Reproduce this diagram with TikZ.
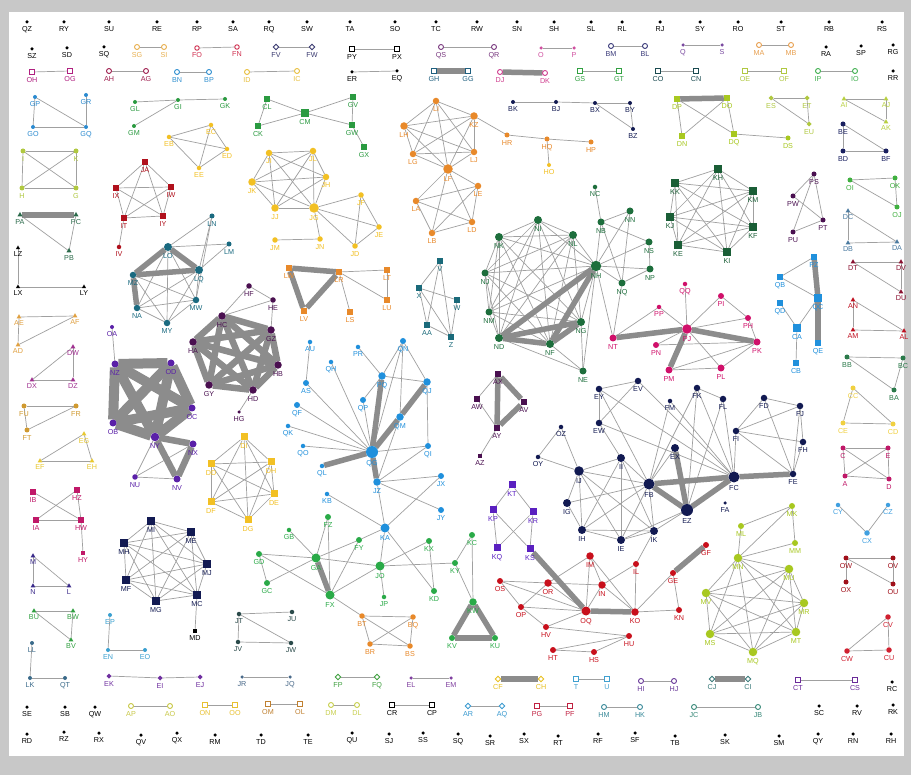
\documentclass[tikz,border=0pt]{standalone}
\usepackage{fontspec}
\setmainfont{Liberation Sans}
\usetikzlibrary{shapes.geometric}
\pgfdeclarelayer{bg}
\pgfsetlayers{bg,main}
\definecolor{cOut}{HTML}{C8C8C8}
\definecolor{cEdge}{HTML}{A0A0A0}
\definecolor{cThick}{HTML}{8C8C8C}
\definecolor{cNavy}{HTML}{121A52}
\definecolor{cDGreen}{HTML}{1D6E3C}
\definecolor{cKH}{HTML}{1A5E36}
\definecolor{cGreen}{HTML}{2AAA48}
\definecolor{cCM}{HTML}{2A9A40}
\definecolor{cYellow}{HTML}{F2C024}
\definecolor{cOrange}{HTML}{E8892A}
\definecolor{cRed}{HTML}{C8101C}
\definecolor{cJA}{HTML}{B0101C}
\definecolor{cMag}{HTML}{D0106A}
\definecolor{cBlue}{HTML}{2090DC}
\definecolor{cTeal}{HTML}{1A6A80}
\definecolor{cVT}{HTML}{1A6A7A}
\definecolor{cPurD}{HTML}{4A1050}
\definecolor{cPur}{HTML}{5A20A8}
\definecolor{cViolet}{HTML}{5A20C0}
\definecolor{cLime}{HTML}{A8C820}
\definecolor{cGP}{HTML}{2A8AD0}
\definecolor{cIK}{HTML}{B0C840}
\definecolor{cPA}{HTML}{2A6A4A}
\definecolor{cAE}{HTML}{E0A040}
\definecolor{cDW}{HTML}{A03090}
\definecolor{cFU}{HTML}{D09A30}
\definecolor{cEG}{HTML}{E8C830}
\definecolor{cIB}{HTML}{C01868}
\definecolor{cMNL}{HTML}{3A2A8A}
\definecolor{cBU}{HTML}{30A040}
\definecolor{cLL}{HTML}{3A6A8A}
\definecolor{cEP}{HTML}{3AA0D0}
\definecolor{cEK}{HTML}{7030A0}
\definecolor{cAI}{HTML}{B8D040}
\definecolor{cBE}{HTML}{1A2060}
\definecolor{cOI}{HTML}{40B040}
\definecolor{cDC}{HTML}{4A7AA0}
\definecolor{cDT}{HTML}{8A1030}
\definecolor{cAN}{HTML}{C01020}
\definecolor{cBB}{HTML}{2A7A4A}
\definecolor{cCC}{HTML}{F0D040}
\definecolor{cCY}{HTML}{40A0E0}
\definecolor{cOW}{HTML}{A0101A}
\definecolor{cCV}{HTML}{D02030}
\definecolor{cJT}{HTML}{2A4A4A}
\definecolor{cSG}{HTML}{E8B050}
\definecolor{cFO}{HTML}{D03050}
\definecolor{cFV}{HTML}{3A3A70}
\definecolor{cQS}{HTML}{7A3A80}
\definecolor{cO}{HTML}{D050A0}
\definecolor{cBM}{HTML}{3A3A7A}
\definecolor{cQ}{HTML}{7A4AA0}
\definecolor{cMA}{HTML}{E8A050}
\definecolor{cOH}{HTML}{B02080}
\definecolor{cAH}{HTML}{A02050}
\definecolor{cBN}{HTML}{3090D0}
\definecolor{cID}{HTML}{E8C040}
\definecolor{cGH}{HTML}{206080}
\definecolor{cDJ}{HTML}{D04090}
\definecolor{cGS}{HTML}{30A040}
\definecolor{cCO}{HTML}{1A4A50}
\definecolor{cOE}{HTML}{B0C840}
\definecolor{cIP}{HTML}{40B050}
\definecolor{cAP}{HTML}{C8C848}
\definecolor{cON}{HTML}{E8C030}
\definecolor{cOM}{HTML}{C08030}
\definecolor{cDM}{HTML}{C8D050}
\definecolor{cAR}{HTML}{3A9AD0}
\definecolor{cPG}{HTML}{C02040}
\definecolor{cHM}{HTML}{3A8A9A}
\definecolor{cJC}{HTML}{3A8A7A}
\definecolor{cJR}{HTML}{4A6A8A}
\definecolor{cFP}{HTML}{40A040}
\definecolor{cEL}{HTML}{8040A0}
\definecolor{cCF}{HTML}{E8C020}
\definecolor{cT}{HTML}{40A0D0}
\definecolor{cHI}{HTML}{6A3A9A}
\definecolor{cCJ}{HTML}{3A7A7A}
\definecolor{cCT}{HTML}{6A2A9A}
\tikzset{
 base/.style={inner sep=0pt, outer sep=0pt},
 dotS/.style={base, circle, fill=#1, draw=none},
 sqS/.style={base, rectangle, fill=#1, draw=none},
 triS/.style={base, regular polygon, regular polygon sides=3, fill=#1, draw=none},
 diaS/.style={base, diamond, fill=#1, draw=none},
 ocS/.style={base, circle, draw=#1, fill=white, line width=0.9pt},
 osS/.style={base, rectangle, draw=#1, fill=white, line width=0.9pt},
 odS/.style={base, diamond, draw=#1, fill=white, line width=0.9pt},
 lb/.style={font=\fontsize{7.2}{7.2}\selectfont, text=#1, inner sep=0.4pt},
 ed/.style={draw=cEdge, line width=0.7pt},
 tk/.style={draw=cThick, line width=5.5pt},
 tkm/.style={draw=cThick, line width=6.5pt},
 tkk/.style={draw=cThick, line width=10pt},
}
\newcommand\G[4]{\foreach \n/\x/\y in {#4}{\node[#1=#2, minimum size=#3, label={[lb=#2, label distance=2pt]below:\n}] (\n) at (\x,\y) {};}}
\newcommand\E[2][ed]{\foreach \a/\b in {#2}{\draw[#1] (\a)--(\b);}}
\newcommand\K[2][ed]{\foreach \a [count=\i] in {#2}{\foreach \b [count=\j] in {#2}{\ifnum\j>\i\relax\draw[#1] (\a)--(\b);\fi}}}
\begin{document}
\begin{tikzpicture}[x=1pt,y=-1pt]
\useasboundingbox (0,0) rectangle (911,775);
% black dots
\G{dotS}{black}{3.5pt}{QZ/27/22, RY/64/22, SU/109/22, RE/157/22, RP/197/22, SA/233/22, RQ/269/22, SW/307/22, TA/350/22, SO/395/22, TC/436/22, RW/477/22, SN/517/22, SH/554/22, SL/591/22, RL/622/22, RJ/660/22, SY/700/22, RO/738/22, ST/781/22, RB/829/22, RS/882/22, SZ/32/49, SD/67/48, SQ/104/47, RA/826/47, SP/861/46, RG/893/45, RR/893/71, ER/352/72, EQ/397/71, SE/27/707, SB/65/707, QW/95/707, SC/819/706, RV/857/706, RK/893/705, RC/892/682, RD/27/734, RZ/64/732, RX/99/733, QV/141/735, QX/177/733, RM/215/735, TD/261/735, TE/308/735, QU/352/733, SJ/389/734, SS/423/733, SR/490/736, SX/524/734, RT/558/736, RF/598/734, SF/635/733, TB/675/736, SK/725/735, SM/779/736, QY/818/734, RN/853/734, RH/891/734}
\node[dotS=black, minimum size=3.5pt, label={[lb=black, label distance=2pt]below:SQ}] (SQb) at (458,734) {};
% pairs
\G{ocS}{cSG}{5pt}{SG/137/47, SI/164/47}
\G{ocS}{cFO}{4.5pt}{FO/197/48, FN/237/47}
\G{odS}{cFV}{5.5pt}{FV/276/47, FW/312/47}
\G{osS}{black}{5pt}{PY/352/49, PX/397/49}
\G{ocS}{cQS}{5pt}{QS/441/47, QR/494/47}
\G{dotS}{cO}{3.5pt}{O/541/48, P/574/48}
\G{ocS}{cBM}{5pt}{BM/611/46, BL/645/46}
\G{dotS}{cQ}{3.5pt}{Q/683/45, S/722/45}
\G{ocS}{cMA}{5pt}{MA/759/45, MB/791/45}
\G{osS}{cOH}{5pt}{OH/32/72, OG/70/71}
\G{ocS}{cAH}{5pt}{AH/109/71, AG/146/71}
\G{ocS}{cBN}{5pt}{BN/177/72, BP/209/72}
\G{ocS}{cID}{5pt}{ID/247/72, IC/297/71}
\G{osS}{cGH}{5pt}{GH/434/71, GG/468/71}
\G{ocS}{cDJ}{5pt}{DJ/500/72, DK/545/73}
\G{osS}{cGS}{5pt}{GS/580/71, GT/619/71}
\G{osS}{cCO}{5pt}{CO/658/71, CN/696/71}
\G{osS}{cOE}{5pt}{OE/745/71, OF/784/71}
\G{ocS}{cIP}{5pt}{IP/818/71, IO/855/71}
\G{ocS}{cAP}{5pt}{AP/131/706, AO/170/706}
\G{osS}{cON}{5pt}{ON/205/705, OO/235/705}
\G{osS}{cOM}{5pt}{OM/268/704, OL/300/704}
\G{ocS}{cDM}{5pt}{DM/331/705, DL/357/705}
\G{osS}{black}{5pt}{CR/392/705, CP/432/705}
\G{odS}{cAR}{5.5pt}{AR/468/706, AQ/502/706}
\G{osS}{cPG}{5pt}{PG/537/706, PF/570/706}
\G{ocS}{cHM}{5pt}{HM/604/707, HK/640/707}
\G{ocS}{cJC}{5pt}{JC/694/707, JB/758/707}
\G{dotS}{cJR}{3.5pt}{JR/242/677, JQ/290/677}
\G{odS}{cFP}{5.5pt}{FP/338/677, FQ/377/677}
\G{dotS}{cEL}{3.5pt}{EL/411/678, EM/451/678}
\G{odS}{cCF}{5.5pt}{CF/498/679, CH/541/679}
\G{osS}{cT}{5pt}{T/576/679, U/607/679}
\G{ocS}{cHI}{5pt}{HI/641/681, HJ/674/681}
\G{odS}{cCJ}{5.5pt}{CJ/712/679, CI/748/679}
\G{osS}{cCT}{5pt}{CT/798/680, CS/855/680}
% small groups left
\G{dotS}{cGP}{4pt}{GP/35/97, GR/86/95, GO/33/127, GQ/86/127}
\G{dotS}{cCM}{4pt}{GL/135/102, GI/178/100, GK/225/99, GM/134/126}
\G{sqS}{cCM}{5.5pt}{CL/267/99, CK/258/126, GV/353/97, GW/352/125, GX/364/147}
\G{sqS}{cCM}{7.5pt}{CM/305/113}
\G{dotS}{cYellow}{4.5pt}{EB/169/137, EC/211/125, ED/227/149, EE/199/168}
\G{dotS}{cIK}{5pt}{I/23/151, K/76/151, H/22/188, G/76/188}
\G{sqS}{cJA}{6.5pt}{JA/145/162, IX/116/188, IW/171/187, IT/124/218, IY/163/216}
\G{dotS}{cJA}{4.5pt}{IV/119/247}
\G{triS}{cPA}{6pt}{PA/20/215, PC/76/215, PB/69/251}
\G{triS}{black}{5pt}{LZ/18/248, LX/18/287, LY/84/287}
\G{dotS}{cTeal}{5pt}{LN/212/216, LM/229/244}
\G{dotS}{cTeal}{8pt}{LO/168/247, LQ/199/270}
\G{dotS}{cTeal}{6.5pt}{MZ/133/275, NA/137/308, MW/196/300, MY/167/323}
\G{dotS}{cPurD}{5.5pt}{HF/249/286, HE/273/300}
\G{dotS}{cPurD}{7.5pt}{HC/222/316, GZ/271/330, HA/193/342, HB/278/365, GY/209/385, HD/253/390}
\G{dotS}{cPurD}{3.5pt}{HG/239/412}
\G{dotS}{cPur}{4pt}{OA/112/327}
\G{dotS}{cPur}{7pt}{NZ/115/364, OD/171/363, OC/192/408, OB/113/423, NX/193/444, NV/177/479}
\G{dotS}{cPur}{8.5pt}{NY/155/437}
\G{dotS}{cPur}{5.5pt}{NU/135/477}
\G{triS}{cAE}{5.5pt}{AE/19/317, AF/75/316, AD/18/345}
\G{triS}{cDW}{5.5pt}{DW/73/347, DX/32/380, DZ/73/380}
\G{dotS}{cFU}{5pt}{FU/24/406, FR/76/406, FT/27/430}
\G{triS}{cEG}{5.5pt}{EG/84/434, EF/40/461, EH/92/461}
\G{sqS}{cIB}{5.5pt}{IB/33/492, HZ/77/490, IA/36/520, HW/81/520}
\G{sqS}{cIB}{4.5pt}{HY/83/553}
\G{triS}{cMNL}{5.5pt}{M/33/556, N/33/586, L/69/586}
\G{triS}{cBU}{5.5pt}{BU/34/611, BW/73/611, BV/71/640}
\G{dotS}{cLL}{4pt}{LL/32/643, LK/30/678, QT/65/678}
\G{dotS}{cEP}{4pt}{EP/110/615, EN/108/650, EO/145/650}
\G{diaS}{cEK}{5pt}{EK/109/676, EI/160/678, EJ/200/677}
\G{sqS}{cNavy}{8pt}{MI/151/521, ME/191/532, MH/124/543, MJ/207/564, MF/126/580, MG/156/601, MC/197/595}
\G{sqS}{black}{4.5pt}{MD/195/631}
\G{sqS}{cYellow}{7pt}{DI/244/437, DH/271/462, DE/274/494, DD/211/464, DF/211/502, DG/248/520}
% yellow JI
\G{dotS}{cYellow}{6.5pt}{JI/269/153, JL/313/151, JH/326/177}
\G{dotS}{cYellow}{7.5pt}{JK/252/182, JJ/275/208}
\G{dotS}{cYellow}{9.5pt}{JG/314/208}
\G{dotS}{cYellow}{5.5pt}{JF/361/195, JE/379/227, JM/275/240, JN/320/239, JD/355/246}
% orange LI
\G{dotS}{cOrange}{6.5pt}{LI/436/101, LJ/474/152, LG/413/154, LE/478/186, LA/416/201, LD/472/222, LB/432/233}
\G{dotS}{cOrange}{7.5pt}{KZ/474/116, LH/404/126}
\G{dotS}{cOrange}{9.5pt}{LF/448/169}
\G{dotS}{cOrange}{5pt}{HR/507/135, HQ/547/139, HP/591/142}
\G{dotS}{cYellow}{4pt}{HO/549/165}
\G{dotS}{cNavy}{4pt}{BK/513/102, BJ/556/102, BX/595/103, BY/630/103, BZ/633/129}
\G{sqS}{cLime}{6.5pt}{DP/677/99, DO/727/98, DN/682/136, DQ/734/134}
\G{dotS}{cLime}{5pt}{DS/788/138}
\G{diaS}{cIK}{5pt}{ES/771/98, ET/807/98, EU/809/124}
\G{triS}{cAI}{5.5pt}{AI/844/99, AJ/886/99, AK/886/122}
\G{dotS}{cBE}{5pt}{BE/843/124, BD/843/151, BF/886/151}
\G{dotS}{cOI}{5pt}{OI/850/180, OK/895/178, OJ/897/207}
\G{triS}{cDC}{5.5pt}{DC/848/211, DB/848/243, DA/897/242}
\G{triS}{cDT}{5.5pt}{DT/853/262, DV/901/262, DU/901/292}
\G{triS}{cAN}{5.5pt}{AN/853/300, AM/853/330, AL/904/331}
\G{dotS}{cBB}{5pt}{BB/847/357, BC/903/358, BA/894/390}
\G{dotS}{cCC}{5pt}{CC/853/388, CE/843/423, CD/893/424}
\G{dotS}{cIB}{5pt}{C/843/448, E/888/448, A/845/476, D/889/479}
\G{dotS}{cCY}{4.5pt}{CY/838/505, CZ/888/505}
\G{dotS}{cCY}{5.5pt}{CX/867/533}
\G{dotS}{cOW}{5pt}{OW/846/558, OV/893/558, OX/846/582, OU/893/584}
\G{dotS}{cCV}{5.5pt}{CV/888/617, CW/847/651, CU/889/650}
\G{dotS}{cPurD}{5pt}{PS/814/174, PW/793/196, PT/823/220, PU/793/232}
\G{sqS}{cBlue}{6pt}{PZ/814/257, QB/780/277, QD/780/303, QE/818/343, CB/796/363}
\G{sqS}{cBlue}{8pt}{QC/818/298, CA/797/328}
\G{sqS}{cKH}{8pt}{KH/718/169, KM/753/191, KF/753/227, KI/727/252, KE/678/245, KJ/670/217, KK/675/183}
% NH group
\G{dotS}{cDGreen}{4.5pt}{NC/595/187}
\G{dotS}{cDGreen}{7pt}{NB/601/222, NN/630/211, NS/649/242, NJ/485/273, NQ/622/283, NP/650/269, NM/489/312, NE/583/371}
\G{dotS}{cDGreen}{8pt}{NI/538/220, NK/499/237, NL/573/235, ND/499/338, NG/581/322, NF/550/344}
\G{dotS}{cDGreen}{10.5pt}{NH/596/266}
% PJ group
\G{dotS}{cMag}{4.5pt}{QQ/685/284, PP/659/307}
\G{dotS}{cMag}{6pt}{PI/721/296, PH/748/318, PN/656/345}
\G{dotS}{cMag}{7pt}{NT/613/338, PK/757/342, PM/669/370, PL/721/368}
\G{dotS}{cMag}{9.5pt}{PJ/687/329}
% AX
\G{sqS}{cPurD}{6.5pt}{AX/498/374, AW/477/399, AV/524/402, AY/497/428}
\G{sqS}{cPurD}{4pt}{AZ/480/456}
% blue QG
\G{dotS}{cBlue}{4.5pt}{AU/310/342, QH/331/362, PR/358/347, QK/288/426, QO/303/446, QL/322/466, KB/327/494}
\G{dotS}{cBlue}{6pt}{QN/403/341, AS/306/383, QP/363/400, QF/297/405, QI/428/446, JX/441/476, JY/441/510}
\G{dotS}{cBlue}{7.5pt}{PQ/382/376, QJ/427/382, QM/400/417, JZ/377/482}
\G{dotS}{cBlue}{9pt}{KA/385/528}
\G{dotS}{cBlue}{12pt}{QG/372/452}
% green GA
\G{dotS}{cGreen}{4.5pt}{GB/289/530, JP/384/597}
\G{dotS}{cGreen}{6pt}{FZ/328/517, FY/359/540, GD/259/554, GC/267/583, KX/429/541, KD/434/591, KY/455/563, KC/472/535, KV/452/638, KU/495/638}
\G{dotS}{cGreen}{7.5pt}{KW/473/602}
\G{dotS}{cGreen}{9pt}{GA/316/558, FX/330/595, JO/380/566}
\G{dotS}{cOrange}{5.5pt}{BT/362/616, BQ/413/617, BR/370/644, BS/410/646}
\G{dotS}{cJT}{4.5pt}{JT/239/614, JU/292/612, JV/238/642, JW/291/643}
\G{sqS}{cOrange}{6.5pt}{LW/289/268, LR/339/272, LV/304/311, LS/350/312, LT/387/270, LU/387/300}
\G{sqS}{cVT}{6.5pt}{V/440/261, X/419/288, W/457/300, AA/427/325, Z/451/337}
% EY / FB group
\G{dotS}{cNavy}{4.5pt}{FM/670/401, OZ/561/427, OY/538/457}
\G{dotS}{cNavy}{3.5pt}{FA/725/503}
\G{dotS}{cNavy}{6.5pt}{EY/599/389, EV/638/381, EW/599/423, FK/697/388, FL/723/399, FD/764/398, FJ/800/406, FI/736/431, FH/803/442, FE/793/474}
\G{dotS}{cNavy}{8pt}{II/621/458, EX/675/448, IG/567/503, IH/582/530, IE/621/540, IK/654/531}
\G{dotS}{cNavy}{9.5pt}{IJ/579/471}
\G{dotS}{cNavy}{11pt}{FB/649/484, FC/734/477}
\G{dotS}{cNavy}{12pt}{EZ/687/510}
% IM group
\G{dotS}{cRed}{6pt}{IL/636/564, OS/500/581, OP/521/607, HV/546/627, HU/629/636, HT/553/650, HS/594/652, GE/673/573, KN/679/610, GF/706/545}
\G{dotS}{cRed}{7.5pt}{IM/590/556, OR/548/583, IN/602/585, KO/635/612}
\G{dotS}{cRed}{9pt}{OQ/586/611}
\G{sqS}{cViolet}{7pt}{KT/512/485, KP/493/510, KR/533/512, KQ/497/548, KS/530/549}
% ML group
\G{dotS}{cLime}{6pt}{MK/792/506, ML/741/526, MM/795/543}
\G{dotS}{cLime}{8.5pt}{MN/738/558, MU/789/569, MV/706/593, MR/804/603, MS/710/634, MT/796/632, MQ/753/652}
\begin{pgfonlayer}{bg}
\fill[cOut] (0,0) rectangle (911,775);
\fill[white] (9,12) rectangle (904,756);
\E{SG/SI, FO/FN, FV/FW, PY/PX, QS/QR, O/P, BM/BL, Q/S, MA/MB, OH/OG, AH/AG, BN/BP, ID/IC, ER/EQ, GS/GT, CO/CN, OE/OF, IP/IO, AP/AO, ON/OO, OM/OL, DM/DL, CR/CP, AR/AQ, PG/PF, HM/HK, JC/JB, JR/JQ, FP/FQ, EL/EM, T/U, HI/HJ, CT/CS}
\E{GP/GO, GP/GQ, GO/GQ, GR/GQ, GL/GI, GI/GK, GI/GM, CL/CK, CK/CM, CL/CM, CM/GV, CM/GW, GV/GW, GW/GX, EB/EC, EB/ED, EB/EE, EC/ED, EC/EE, EE/ED, I/K, I/H, K/G, H/G, I/G, K/H, IT/IV, PC/PB, PA/PB, LZ/LX, LX/LY}
\E{LN/LO, LN/LQ, LN/MW, LQ/LM, LO/LM, MZ/MW, MZ/MY, NA/MY, NA/LQ, NA/MW, MY/LQ, MY/MW, LO/MY, LQ/MW, LO/NA, LO/MW, HF/HC, HF/HE, HE/GZ, HE/HC, HD/HG, OA/NZ, NU/NY, NU/NX, NU/NV}
\E{AE/AF, AE/AD, AD/AF, DW/DZ, DW/DX, DX/DZ, FU/FR, FU/FT, FT/FR, EG/EF, EG/EH, EF/EH, IB/HW, HZ/IA, IA/HW, HZ/HW, HW/HY, M/N, N/L, M/L, BU/BW, BU/BV, BW/BV, LL/LK, LK/QT, EP/EN, EN/EO, EK/EI, EI/EJ, MC/MD}
\E{JG/JF, JG/JE, JG/JD, JG/JN, JM/JN, JF/JE, JF/JD, JE/JD, KZ/HR, HR/HQ, HQ/HP, HQ/HO, BK/BJ, BJ/BX, BX/BY, BX/BZ, BY/BZ, DP/DN, DO/DN, DP/DQ, DO/DQ, DQ/DS, ES/ET, ET/EU, ES/EU, AI/AJ, AI/AK, AJ/AK, BE/BD, BE/BF, BD/BF, OI/OK, OI/OJ, OK/OJ}
\E{DC/DB, DB/DA, DC/DA, DT/DV, DV/DU, DT/DU, AN/AM, AM/AL, AN/AL, BB/BC, BB/BA, BC/BA, CC/CE, CE/CD, CC/CD, C/E, C/A, C/D, E/A, A/D, E/D, CY/CX, CZ/CX, OW/OV, OW/OX, OW/OU, OV/OU, CV/CW, CV/CU, CW/CU, PS/PW, PS/PT, PS/PU, PW/PT, PU/PT, PZ/QB, QB/QC, QD/CA, QC/CA, CA/CB}
\E{NB/NC, NB/NN, NB/NS, NB/NH, NB/NQ, NN/NH, NN/NQ, NS/NH, NS/NP, NH/NQ, NH/NP, NQ/NP, NH/NT, NQ/NT, NE/NG, NE/NF, NE/ND, NE/NH, QQ/PJ, PI/PJ, PI/PH, PP/PJ, PH/PJ, PH/PK, PN/PJ, PJ/PL, PK/PL, PK/PN, PM/PK, NT/PP, PM/PL, AW/AX, AW/AY, AY/AZ}
\E{AU/AS, AS/QG, QH/QG, PR/PQ, QN/PQ, QN/QJ, QN/QM, QN/QG, PQ/QJ, PQ/QP, QJ/QI, QF/QG, QK/QG, QO/QG, QP/QG, QI/QG, QM/JZ, JZ/JX, JZ/JY, JZ/KA, KB/KA, JX/KA, QI/JZ}
\E{GB/GA, FZ/GA, FZ/FX, GA/FY, GD/GA, GD/GC, GD/FX, GC/GA, FX/FY, FX/JO, GA/JO, KA/JO, JO/JP, JO/KX, JO/KY, KA/KD, KX/KD, KC/KY, KC/KW, KY/KW, FX/BT, KA/FY, BT/BQ, BT/BR, BT/BS, BR/BQ, BR/BS, BS/BQ, JT/JU, JT/JV, JT/JW, JV/JW, LR/LS, LR/LT, LR/LU, LT/LU, V/X, V/AA, V/Z, X/W, X/AA, AA/Z, X/Z, W/Z}
\E{EY/EV, EY/EW, EV/EW, EY/FB, EY/FC, EV/FC, EW/FC, FM/FB, FM/FC, FK/FB, FK/FC, FK/FL, FL/FC, FL/EZ, FD/FI, FD/FJ, FD/FE, FJ/FI, FJ/FH, FI/FH, FI/FC, FI/FE, FH/FE, FJ/FE, EX/FB, OY/OZ, OZ/IJ, OY/IJ, IJ/II, IJ/FB, II/FB, IJ/IG, IJ/IH, IJ/IE, IJ/IK, II/IK, II/IH, II/IE, IG/IH, IG/FB, IH/FB, IE/FB, IK/FB, IE/IK, IH/IE, IH/IK, IK/EZ, IE/EZ, EW/II, FK/EZ}
\E{IM/OR, IM/IN, IM/OQ, IM/KO, IL/IN, IL/KO, OS/OR, OS/OQ, OS/OP, OR/IN, OR/OP, OR/OQ, IN/OQ, IN/KO, OP/OQ, OP/HV, HV/HU, HV/OQ, HU/HT, HU/HS, HT/HS, KO/GE, KO/KN, GE/KN, IK/IL, KT/KP, KT/KR, KP/KQ, KP/KS, KR/KQ, KR/KS, MK/ML, MK/MN, MK/MM, ML/MN, MM/MN}
\K{MI,ME,MH,MJ,MF,MG,MC}
\K{DI,DH,DE,DD,DF,DG}
\K{JI,JL,JK,JH,JJ,JG}
\K{LI,KZ,LH,LJ,LG,LF}
\K{LF,LE,LA,LD,LB}
\K{KH,KM,KF,KI,KE,KJ,KK}
\K{NK,NI,NL,NJ,NM,ND,NF,NG,NH}
\K{MN,MU,MV,MR,MS,MT,MQ}
\K{JA,IX,IW,IT,IY}
% thick
\E[tk]{GH/GG, DJ/DK, CF/CH, CJ/CI, PA/PC, DP/DO, LO/LQ, LO/MZ, MZ/LQ, MZ/NA, LW/LR, LW/LV, LR/LV, PZ/QC, QC/QE, ND/NH, NF/NH, ND/NF, ND/NG, NF/NG, PJ/PK, NT/PJ, PM/PJ, AX/AV, AX/AY, AV/AY, PQ/QG, QJ/QM, QM/QG, QL/QG, QG/JZ, GA/FX, KW/KV, KV/KU, KW/KU, FC/FE, FB/FC, FB/EZ, EX/EZ, FC/EZ, OQ/KO, GE/GF, KS/OQ}
\E[tkm]{NY/NX, NX/NV, NY/NV}
\K[tkm]{HC,GZ,HA,HB,GY,HD}
\K[tkk]{NZ,OD,OC,OB,NY}
\end{pgfonlayer}
\end{tikzpicture}
\end{document}
